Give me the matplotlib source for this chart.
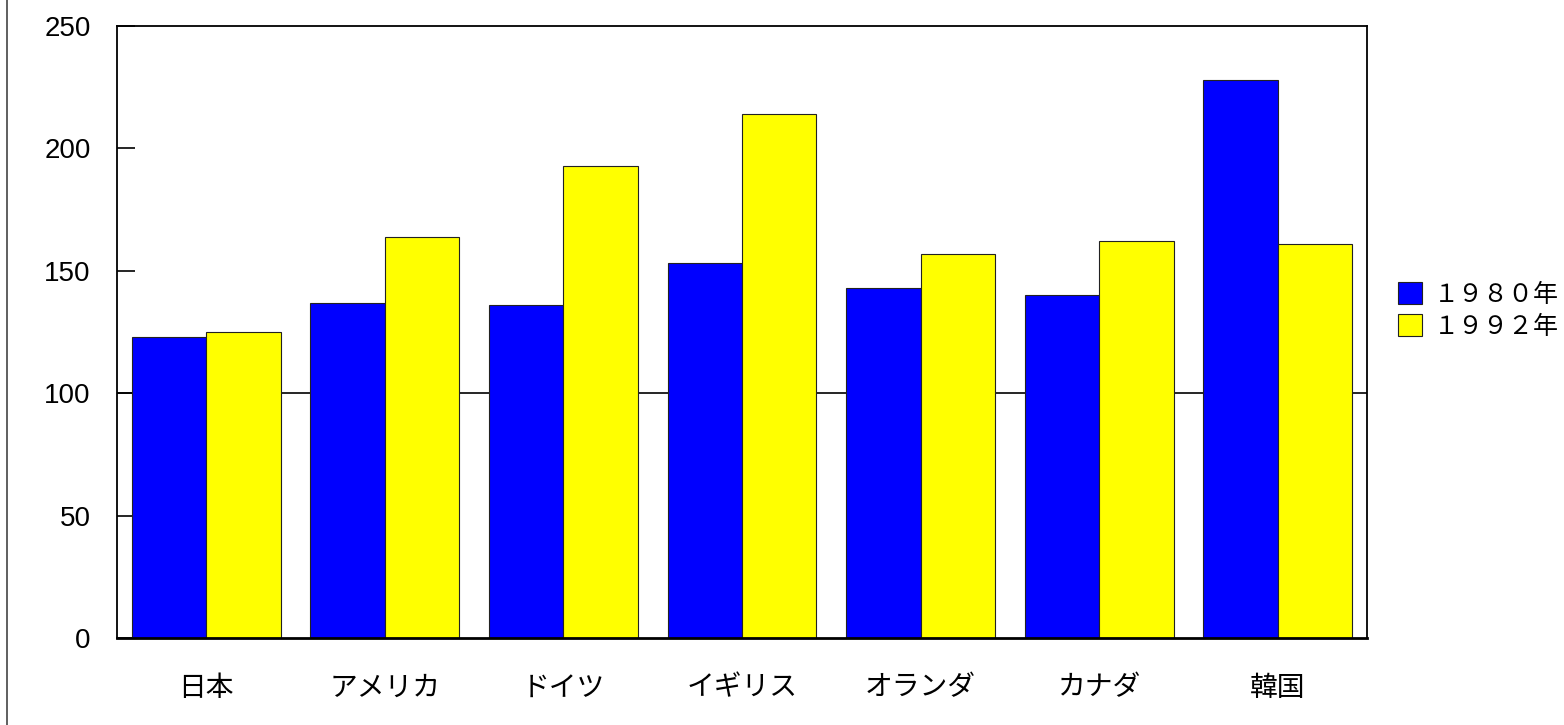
import numpy as np
import matplotlib.pyplot as plt
from matplotlib.lines import Line2D

plt.rcParams['font.family'] = ['Liberation Sans', 'Noto Sans CJK JP']

# Data
countries = ['日本', 'アメリカ', 'ドイツ', 'イギリス', 'オランダ', 'カナダ', '韓国']
y1980 = [123, 137, 136, 153, 143, 140, 228]
y1992 = [125, 164, 193, 214, 157, 162, 161]
series_labels = ['１９８０年', '１９９２年']

fig = plt.figure(figsize=(15.64, 7.25), dpi=100)
ax = fig.add_axes([117 / 1564, 87 / 725, 1250 / 1564, 612 / 725])

x = np.arange(len(countries))
w = 0.417
ax.bar(x - w / 2, y1980, width=w, color='#0000ff', edgecolor='#222222',
       linewidth=0.8, label=series_labels[0], zorder=2)
ax.bar(x + w / 2, y1992, width=w, color='#ffff00', edgecolor='#222222',
       linewidth=0.8, label=series_labels[1], zorder=2)

# reference line at 100
ax.axhline(100, color='black', linewidth=1.2, zorder=1)

ax.set_xlim(-0.5, len(countries) - 0.5)
ax.set_ylim(0, 250)
ax.set_yticks(range(0, 251, 50))
ax.set_xticks(x)
ax.set_xticklabels(countries, fontsize=20)
ax.tick_params(axis='y', direction='in', length=13, width=1.2, pad=19, labelsize=20)
ax.tick_params(axis='x', length=0, pad=27)
for s in ax.spines.values():
    s.set_linewidth(1.3)
ax.spines['bottom'].set_linewidth(2)

fig.legend(loc='center left', bbox_to_anchor=(1398 / 1564, 0.572), frameon=False,
           fontsize=18, handlelength=0.95, handleheight=1.0, handletextpad=0.5,
           labelspacing=0.3, borderaxespad=0, borderpad=0)

# thin line along the left edge of the figure
fig.add_artist(Line2D([7 / 1564, 7 / 1564], [0, 1], color='#444444', linewidth=1.2))

plt.savefig('out.png', dpi=100)
